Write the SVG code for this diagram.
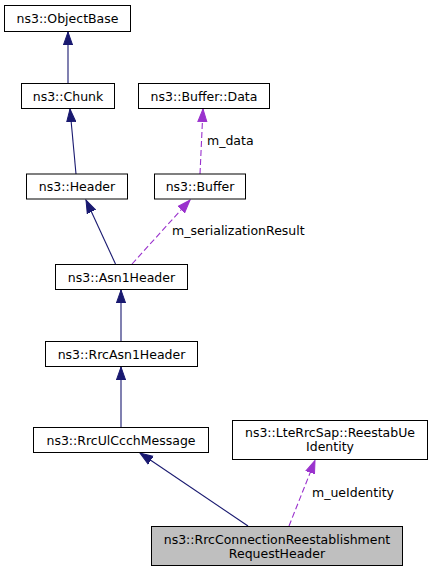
<svg xmlns="http://www.w3.org/2000/svg" width="433" height="573" viewBox="0 0 433 573">
<style>
.box{fill:#ffffff;stroke:#000000;stroke-width:1}
.cur{fill:#bfbfbf;stroke:#000000;stroke-width:1}
text{font-family:"DejaVu Sans","Liberation Sans",sans-serif;font-size:12.5px;fill:#000000}
.c{text-anchor:middle}
.inh{fill:none;stroke:#191970;stroke-width:1.1;marker-end:url(#ai)}
.use{fill:none;stroke:#9a32cd;stroke-width:1.1;stroke-dasharray:6,3;marker-end:url(#au)}
</style>
<defs>
<marker id="ai" markerUnits="userSpaceOnUse" markerWidth="14" markerHeight="12" viewBox="0 -6 14 12" refX="13" refY="0" orient="auto">
<polygon points="0,-4.6 13,0 0,4.6" fill="#191970" stroke="#191970" stroke-width="1"/>
</marker>
<marker id="au" markerUnits="userSpaceOnUse" markerWidth="14" markerHeight="12" viewBox="0 -6 14 12" refX="13" refY="0" orient="auto">
<polygon points="0,-4.6 13,0 0,4.6" fill="#9a32cd" stroke="#9a32cd" stroke-width="1"/>
</marker>
</defs>
<g id="edges">
<path class="inh" d="M68,83 L68,32"/>
<path class="inh" d="M76,174 L70,109"/>
<path class="inh" d="M115.5,264 L86,200"/>
<path class="use" d="M132,264 L190,200"/>
<text x="172" y="235">m_serializationResult</text>
<path class="use" d="M200,174 L203,109"/>
<text x="207" y="145">m_data</text>
<path class="inh" d="M121,341.5 L121,290"/>
<path class="inh" d="M121,427.5 L121,367"/>
<path class="inh" d="M248,526 L140,453"/>
<path class="use" d="M289,526 L315,460.5"/>
<text x="312" y="497">m_ueIdentity</text>
</g>
<g id="ObjectBase"><rect class="box" x="4.5" y="5.5" width="126" height="26"/><text class="c" x="67.5" y="23">ns3::ObjectBase</text></g>
<g id="Chunk"><rect class="box" x="21.5" y="83.5" width="93" height="25"/><text class="c" x="68" y="100.5">ns3::Chunk</text></g>
<g id="BufferData"><rect class="box" x="138.5" y="83.5" width="131" height="25"/><text class="c" x="204" y="100.5">ns3::Buffer::Data</text></g>
<g id="Header"><rect class="box" x="26.5" y="174" width="101" height="25"/><text class="c" x="77" y="191">ns3::Header</text></g>
<g id="Buffer"><rect class="box" x="154.5" y="174" width="91" height="25"/><text class="c" x="200" y="191">ns3::Buffer</text></g>
<g id="Asn1Header"><rect class="box" x="55.5" y="264.5" width="132" height="25"/><text class="c" x="121.5" y="281.5">ns3::Asn1Header</text></g>
<g id="RrcAsn1Header"><rect class="box" x="45.5" y="341.5" width="152" height="25"/><text class="c" x="121.5" y="358.5">ns3::RrcAsn1Header</text></g>
<g id="RrcUlCcchMessage"><rect class="box" x="33.5" y="427.5" width="175" height="25"/><text class="c" x="121" y="444.5">ns3::RrcUlCcchMessage</text></g>
<g id="ReestabUeIdentity"><rect class="box" x="232.5" y="420.5" width="195" height="39"/><text class="c" x="330" y="437">ns3::LteRrcSap::ReestabUe</text><text class="c" x="330" y="451">Identity</text></g>
<g id="RrcConnectionReestablishmentRequestHeader"><rect class="cur" x="151.5" y="526.5" width="251" height="39"/><text class="c" x="277" y="543.5">ns3::RrcConnectionReestablishment</text><text class="c" x="277" y="557.5">RequestHeader</text></g>
</svg>
